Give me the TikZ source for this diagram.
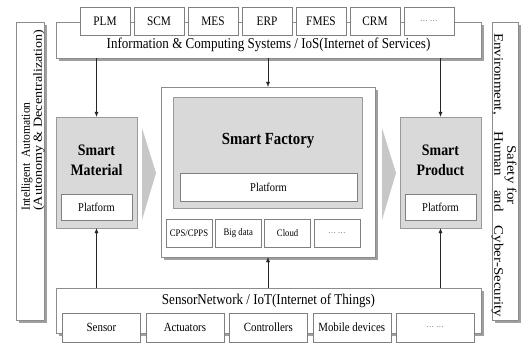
\documentclass[tikz,border=0pt]{standalone}
\usepackage{fontspec}
\setmainfont{Liberation Serif}[FakeStretch=0.87]
\newfontfamily\vertfont{Liberation Serif}[FakeStretch=1.15]
\newfontfamily\vertnarrowfont{Liberation Serif}[FakeStretch=0.94]
\usetikzlibrary{arrows.meta,shadows}

\newcommand\etcdots{{\color{black!60}\fontsize{9}{9}\selectfont\ldots\ \ldots}}

\tikzset{
  panel/.style={draw=black!45, fill=white,
    drop shadow={shadow xshift=2.5pt, shadow yshift=-2.5pt, fill=black!75}},
  sysitem/.style={draw=black!50, fill=white, inner sep=0pt, minimum width=50pt,
    minimum height=28pt, font=\fontsize{13}{13}\selectfont},
  fabitem/.style={draw=black!50, fill=white, inner sep=0pt, minimum width=46pt,
    minimum height=28pt, font=\fontsize{10}{10}\selectfont},
  sensitem/.style={draw=black!50, fill=white, inner sep=0pt, minimum width=78pt,
    minimum height=29pt, font=\fontsize{12.5}{12.5}\selectfont},
  smartbox/.style={draw=black!40, fill=black!15, minimum width=81pt, minimum height=111pt},
  platbox/.style={draw=black!50, fill=white, inner sep=0pt, minimum height=26pt,
    font=\fontsize{12}{12}\selectfont},
  smarttitle/.style={font=\bfseries\fontsize{16}{20}\selectfont, align=center, inner sep=0pt},
  bandtext/.style={font=\fontsize{15}{15}\selectfont, inner sep=0pt},
  flow/.style={draw=black!85, -{Latex[length=5pt,width=4pt]}},
  chevron/.style={fill=black!22},
}

\begin{document}
\begin{tikzpicture}[x=1pt,y=-1pt]
  \useasboundingbox (0,0) rectangle (526,343);

  % information systems on top
  \node[panel, minimum width=425pt, minimum height=36pt] (sys) at (268.5,40) {};
  \foreach \lbl [count=\i] in {PLM,SCM,MES,ERP,FMES,CRM,\etcdots}
    \node[sysitem] (sys\i) at (51+54*\i,21) {\lbl};
  \node[bandtext] (systext) at (268.5,45)
    {Information \& Computing Systems / IoS(Internet of Services)};

  % side bars
  \node[panel, minimum width=28pt, minimum height=298pt] (auto) at (30,171) {};
  \node[rotate=90, anchor=west, align=left, inner sep=0pt] (autotext) at (33,211)
    {\vertnarrowfont\fontsize{12.3}{13}\selectfont Intelligent\ \ Automation\\
     \vertfont\fontsize{12.3}{13}\selectfont (Autonomy \& Decentralization)};
  \node[panel, minimum width=26pt, minimum height=298pt] (safe) at (505,171) {};
  \node[rotate=-90, align=center, inner sep=0pt,
        font=\vertfont\fontsize{13}{13}\selectfont] (safetext) at (504,175)
    {Safety for\\ \makebox[284pt][s]{Environment, Human and Cyber-Security}};

  % smart material
  \node[smartbox] (mat) at (96.5,172.5) {};
  \node[smarttitle] (mattext) at (96.5,160) {Smart\\Material};
  \node[platbox, minimum width=71pt] (matplat) at (96.5,207) {Platform};

  % smart factory
  \node[panel, minimum width=214pt, minimum height=170pt] (fab) at (268,172) {};
  \node[smartbox, minimum width=189pt] (fabin) at (267.5,152.5) {};
  \node[smarttitle, font=\bfseries\fontsize{17}{20}\selectfont] (fabtext) at (268,141) {Smart Factory};
  \node[platbox, minimum width=177pt, minimum height=28pt] (fabplat) at (268.5,187) {Platform};
  \foreach \lbl [count=\i] in {CPS/CPPS,Big data,Cloud,\etcdots}
    \node[fabitem] (fab\i) at (139.7+49.3*\i,233) {\lbl};

  % smart product
  \node[smartbox] (prod) at (440.5,172.5) {};
  \node[smarttitle] (prodtext) at (440.5,160) {Smart\\Product};
  \node[platbox, minimum width=71pt] (prodplat) at (440.5,207) {Platform};

  % chevrons
  \fill[chevron] (142,128) -- (156,173) -- (142,220) -- cycle;
  \fill[chevron] (382,128) -- (396,173) -- (382,220) -- cycle;

  % sensor network at the bottom
  \node[panel, minimum width=425pt, minimum height=45pt] (sens) at (268.5,310.5) {};
  \node[bandtext] (senstext) at (268.5,301) {SensorNetwork / IoT(Internet of Things)};
  \foreach \lbl [count=\i] in {Sensor,Actuators,Controllers,Mobile devices,\etcdots}
    \node[sensitem] (sens\i) at (18.1+83.4*\i,327.5) {\lbl};

  % arrows
  \draw[flow] (sys.south -| mat.north) -- (mat.north);
  \draw[flow] (sys.south -| fab.north) -- (fab.north);
  \draw[flow] (sys.south -| prod.north) -- (prod.north);
  \draw[flow] (sens.north -| mat.south) -- (mat.south);
  \draw[flow] (sens.north -| fab.south) -- (fab.south);
  \draw[flow] (sens.north -| prod.south) -- (prod.south);
\end{tikzpicture}
\end{document}
